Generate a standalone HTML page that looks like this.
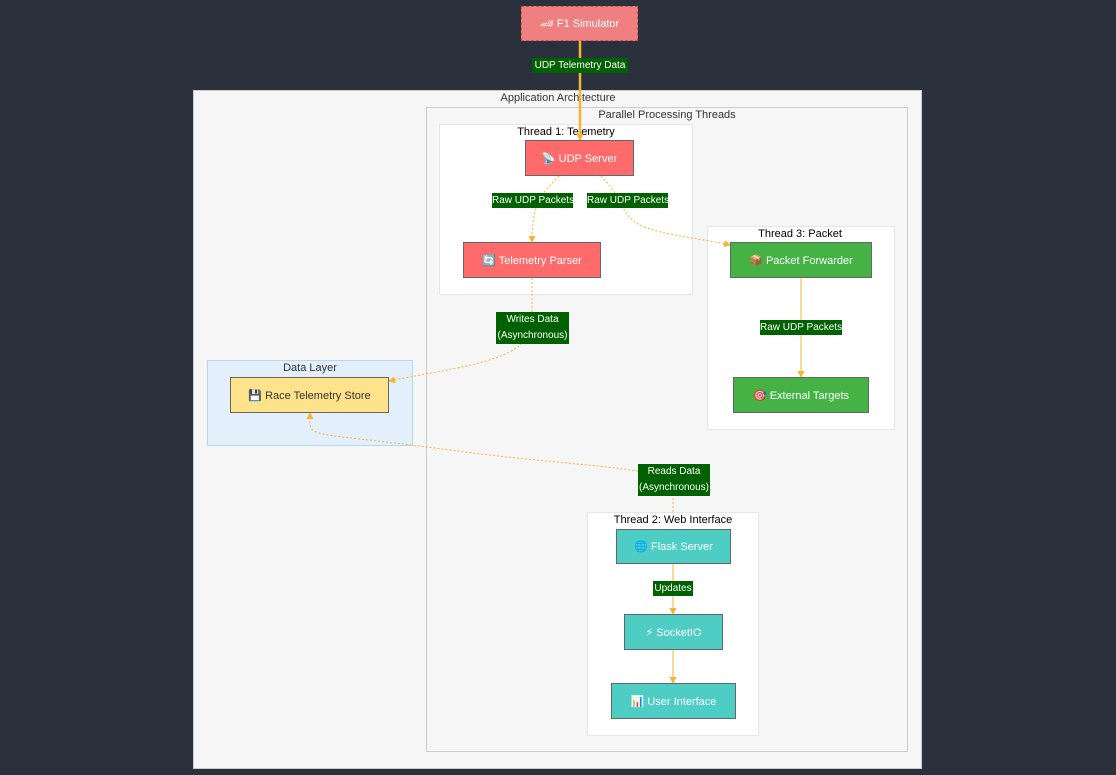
<!DOCTYPE html>
<html><head><meta charset="utf-8"><style>
body{margin:0;width:1116px;height:775px;background:#2a303c;position:relative;overflow:hidden;font-family:"Liberation Sans","DejaVu Sans",sans-serif;font-size:11px}
.b{position:absolute;box-sizing:border-box}
.n{position:absolute;box-sizing:border-box;border:1px solid #666;display:flex;align-items:center;justify-content:center;color:#fff;font-size:11px}
.t{position:absolute;font-size:11px;color:#333;transform:translateX(-50%);white-space:nowrap}
.l{position:absolute;background:#006100;color:#fff;font-size:10px;text-align:center;line-height:15px;white-space:nowrap;overflow:hidden}
svg{position:absolute;left:0;top:0}
</style></head><body>
<div class="n" style="left:521px;top:6px;width:117px;height:35px;background:#f08080;border:1px dashed #c55">🏎 F1 Simulator</div>
<div class="b" style="left:193px;top:90px;width:729px;height:679px;background:#f6f6f6;border:1px solid #ccc"></div>
<div class="t" style="left:558px;top:92px">Application Architecture</div>
<div class="b" style="left:426px;top:107px;width:482px;height:645px;background:#f6f6f6;border:1px solid #ccc"></div>
<div class="t" style="left:667px;top:109px">Parallel Processing Threads</div>
<div class="b" style="left:439px;top:124px;width:254px;height:171px;background:#fff;border:1px solid #e6e6e6"></div>
<div class="t" style="left:566px;top:126px;color:#000">Thread 1: Telemetry</div>
<div class="b" style="left:707px;top:226px;width:188px;height:204px;background:#fff;border:1px solid #e6e6e6"></div>
<div class="t" style="left:800px;top:228px;color:#000">Thread 3: Packet</div>
<div class="b" style="left:587px;top:512px;width:172px;height:224px;background:#fff;border:1px solid #e6e6e6"></div>
<div class="t" style="left:673px;top:514px;color:#000">Thread 2: Web Interface</div>
<div class="b" style="left:207px;top:360px;width:206px;height:86px;background:#e3f0fb;border:1px solid #b3d8f5"></div>
<div class="t" style="left:310px;top:362px">Data Layer</div>
<svg width="1116" height="775">
<defs><marker id="a" markerUnits="userSpaceOnUse" markerWidth="7" markerHeight="7" refX="6" refY="3.5" orient="auto"><path d="M0,0L7,3.5L0,7z" fill="#f5b530"/></marker></defs>
<g fill="none" stroke="#f5b530">
<path d="M580,41V140" stroke-width="2.5" marker-end="url(#a)"/>
<path d="M559,176C540,195 532,205 532,242" stroke-dasharray="2,2" marker-end="url(#a)"/>
<path d="M601,176C625,200 620,215 640,225S700,238 730,245" stroke-dasharray="2,2" marker-end="url(#a)"/>
<path d="M532,278V320C532,360 470,365 389,381" stroke-dasharray="2,2" marker-end="url(#a)"/>
<path d="M801,278V377" marker-end="url(#a)"/>
<path d="M673,512V490C670,465 600,470 450,450S310,440 310,413" stroke-dasharray="2,2" marker-end="url(#a)"/>
<path d="M673,564V614" marker-end="url(#a)"/>
<path d="M673,650V683" marker-end="url(#a)"/>
</g></svg>
<div class="l" style="left:532px;top:58px;width:96px">UDP Telemetry Data</div>
<div class="l" style="left:492px;top:193px;width:81px">Raw UDP Packets</div>
<div class="l" style="left:587px;top:193px;width:81px">Raw UDP Packets</div>
<div class="l" style="left:496px;top:312px;width:73px;height:32px;line-height:16px">Writes Data<br>(Asynchronous)</div>
<div class="l" style="left:760px;top:320px;width:82px">Raw UDP Packets</div>
<div class="l" style="left:638px;top:464px;width:72px;height:32px;line-height:16px">Reads Data<br>(Asynchronous)</div>
<div class="l" style="left:653px;top:581px;width:40px">Updates</div>
<div class="n" style="left:525px;top:140px;width:109px;height:36px;background:#ff6b6b">📡 UDP Server</div>
<div class="n" style="left:463px;top:242px;width:138px;height:36px;background:#ff6b6b">🔄 Telemetry Parser</div>
<div class="n" style="left:730px;top:242px;width:142px;height:36px;background:#44b244">📦 Packet Forwarder</div>
<div class="n" style="left:733px;top:377px;width:136px;height:36px;background:#44b244">🎯 External Targets</div>
<div class="n" style="left:230px;top:377px;width:159px;height:36px;background:#ffe38a;color:#333">💾 Race Telemetry Store</div>
<div class="n" style="left:616px;top:529px;width:115px;height:35px;background:#4ecdc4">🌐 Flask Server</div>
<div class="n" style="left:624px;top:614px;width:99px;height:36px;background:#4ecdc4">⚡ SocketIO</div>
<div class="n" style="left:611px;top:683px;width:125px;height:36px;background:#4ecdc4">📊 User Interface</div>
</body></html>
